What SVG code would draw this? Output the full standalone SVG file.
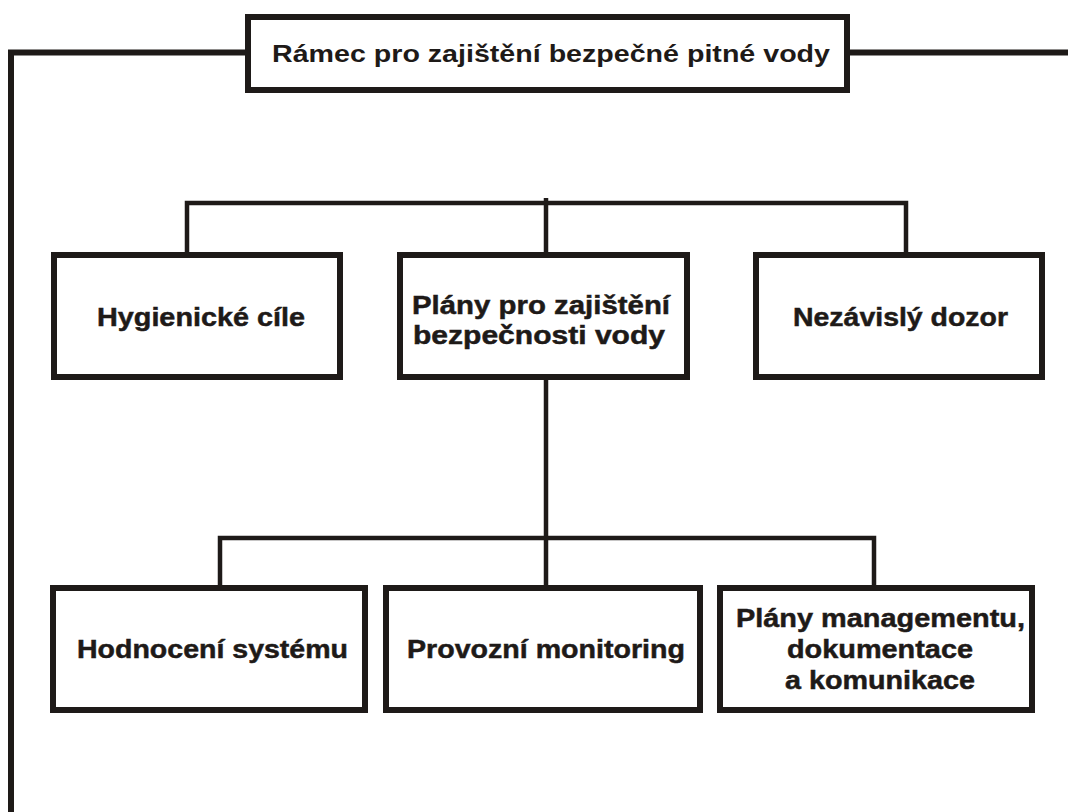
<svg xmlns="http://www.w3.org/2000/svg" width="1068" height="812" viewBox="0 0 1068 812">
  <style>
    .box { fill: #ffffff; stroke: #1e1a18; stroke-width: 6; }
    .wire { fill: none; stroke: #1e1a18; stroke-width: 4.5; stroke-linecap: butt; stroke-linejoin: miter; }
    .frame { fill: none; stroke: #1e1a18; stroke-width: 6; stroke-linejoin: miter; }
    .lbl { font-family: "Liberation Sans", Arial, sans-serif; font-weight: bold; font-size: 26.5px; fill: #1e1a18; stroke: #1e1a18; stroke-width: 0.5; }
    .ttl { font-family: "Liberation Sans", Arial, sans-serif; font-weight: bold; font-size: 24px; fill: #1e1a18; }
  </style>
  <rect width="1068" height="812" fill="#ffffff"/>

  <!-- connectors -->
  <g id="connectors">
    <path class="frame" d="M11 812 V52.5 H248"/>
    <path class="frame" d="M847 52.5 H1068"/>
    <path class="wire" d="M187 254 V203 H906 V254"/>
    <path class="wire" d="M546 198 V588"/>
    <path class="wire" d="M220 588 V538 H874 V588"/>
  </g>

  <g id="framework">
    <rect class="box" x="248" y="17" width="599" height="73"/>
    <text class="ttl" x="272" y="62" textLength="558" lengthAdjust="spacingAndGlyphs">Rámec pro zajištění bezpečné pitné vody</text>
  </g>

  <g id="health-targets">
    <rect class="box" x="54" y="255" width="286" height="122"/>
    <text class="lbl" x="97" y="326" textLength="208" lengthAdjust="spacingAndGlyphs">Hygienické cíle</text>
  </g>

  <g id="water-safety-plans">
    <rect class="box" x="400" y="255" width="287" height="122"/>
    <text class="lbl" x="412" y="314" textLength="258" lengthAdjust="spacingAndGlyphs">Plány pro zajištění</text>
    <text class="lbl" x="413" y="344" textLength="252" lengthAdjust="spacingAndGlyphs">bezpečnosti vody</text>
  </g>

  <g id="surveillance">
    <rect class="box" x="756" y="255" width="286" height="122"/>
    <text class="lbl" x="793" y="326" textLength="215" lengthAdjust="spacingAndGlyphs">Nezávislý dozor</text>
  </g>

  <g id="system-assessment">
    <rect class="box" x="53" y="588" width="312" height="122"/>
    <text class="lbl" x="77" y="658" textLength="271" lengthAdjust="spacingAndGlyphs">Hodnocení systému</text>
  </g>

  <g id="operational-monitoring">
    <rect class="box" x="386" y="588" width="314" height="122"/>
    <text class="lbl" x="407" y="658" textLength="278" lengthAdjust="spacingAndGlyphs">Provozní monitoring</text>
  </g>

  <g id="management-plans">
    <rect class="box" x="720" y="588" width="312" height="122"/>
    <text class="lbl" x="736" y="627" textLength="289" lengthAdjust="spacingAndGlyphs">Plány managementu,</text>
    <text class="lbl" x="787" y="658" textLength="186" lengthAdjust="spacingAndGlyphs">dokumentace</text>
    <text class="lbl" x="785" y="689" textLength="190" lengthAdjust="spacingAndGlyphs">a komunikace</text>
  </g>
</svg>
